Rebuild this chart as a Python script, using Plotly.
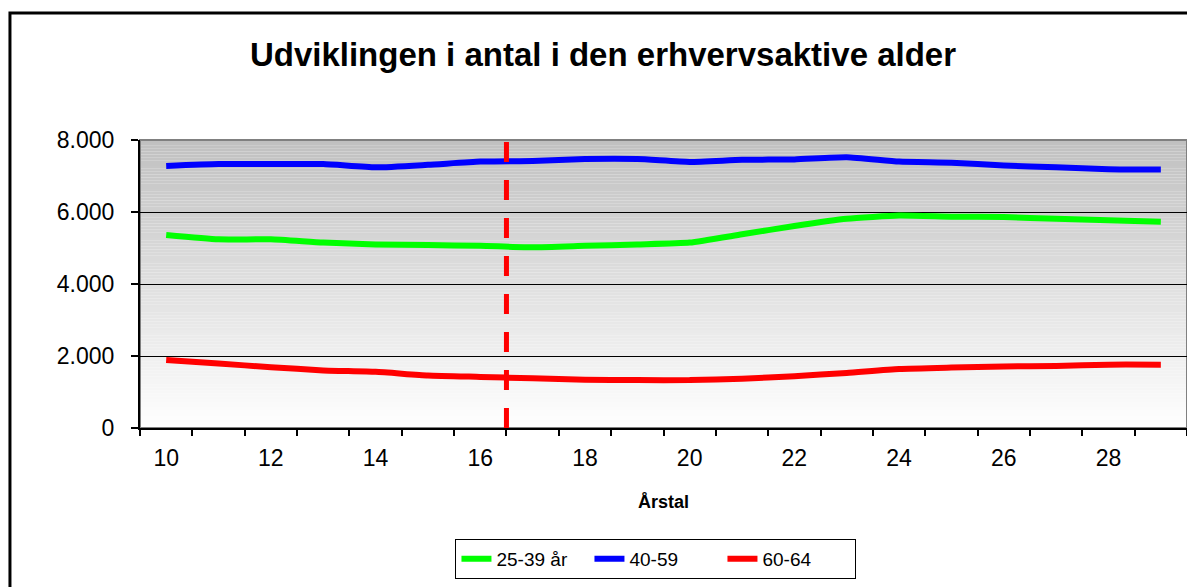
import plotly.graph_objects as go

# Årstal (kategorier 10..29)
years = list(range(10, 30))

# Antal personer pr. aldersgruppe
age_25_39 = [5360, 5240, 5240, 5150, 5100, 5080, 5060, 5020, 5060, 5100,
             5150, 5380, 5610, 5810, 5900, 5870, 5860, 5810, 5770, 5730]
age_40_59 = [7280, 7330, 7330, 7330, 7240, 7310, 7400, 7420, 7470, 7470,
             7390, 7450, 7460, 7520, 7400, 7370, 7290, 7240, 7190, 7180]
age_60_64 = [1890, 1790, 1690, 1600, 1560, 1460, 1420, 1380, 1340, 1330,
             1330, 1370, 1440, 1530, 1640, 1680, 1710, 1720, 1760, 1760]

# skillelinje mellem faktiske tal og prognose
forecast_start = 16.5

x_tickvals = [10, 12, 14, 16, 18, 20, 22, 24, 26, 28]
y_tickvals = [0, 2000, 4000, 6000, 8000]
y_ticktext = ["0", "2.000", "4.000", "6.000", "8.000"]

FONT = "Liberation Sans, Arial, sans-serif"

series = [
    ("25-39 år", age_25_39, "#00ff00"),
    ("40-59", age_40_59, "#0000ff"),
    ("60-64", age_60_64, "#ff0000"),
]

fig = go.Figure()
for label, values, color in series:
    fig.add_trace(
        go.Scatter(
            x=years,
            y=values,
            mode="lines",
            name=label,
            line=dict(color=color, width=6, shape="spline", smoothing=0.5),
        )
    )

# gradient baggrund i plotområdet (grå -> hvid)
shapes = []
n_strips = 100
for i in range(n_strips):
    t = (i + 0.5) / n_strips  # 0 nederst, 1 øverst
    g = round(255 - t * 63)
    shapes.append(dict(
        type="rect", xref="x domain", yref="y domain",
        x0=0, x1=1, y0=i / n_strips, y1=(i + 1) / n_strips,
        line=dict(width=0), fillcolor=f"rgb({g},{g},{g})", layer="below",
    ))

# ramme om plotområdet
shapes.append(dict(
    type="rect", xref="x domain", yref="y domain", x0=0, x1=1, y0=0, y1=1,
    line=dict(color="#808080", width=2), fillcolor="rgba(0,0,0,0)", layer="below",
))

# stiplet lodret linje
shapes.append(dict(
    type="line", xref="x", yref="y domain",
    x0=forecast_start, x1=forecast_start, y0=0, y1=1,
    line=dict(color="#ff0000", width=5, dash="20px,18px"),
))

# ydre ramme om diagrammet
shapes.append(dict(
    type="rect", xref="paper", yref="paper",
    x0=-0.1242, x1=1.02, y0=-0.7, y1=1.4414,
    line=dict(color="#000000", width=3), fillcolor="rgba(0,0,0,0)",
))

fig.update_layout(
    width=1187,
    height=579,
    margin=dict(l=132, r=8, t=132, b=157),
    paper_bgcolor="#ffffff",
    plot_bgcolor="#ffffff",
    font=dict(family=FONT, color="#000000"),
    title=dict(
        text="<b>Udviklingen i antal i den erhvervsaktive alder</b>",
        x=0.4422, xref="paper", xanchor="center",
        y=1 - 46 / 579, yref="container", yanchor="middle",
        font=dict(size=33, family=FONT),
    ),
    shapes=shapes,
    showlegend=True,
    legend=dict(
        orientation="h",
        x=0.4928, xanchor="center",
        y=-0.385, yanchor="top",
        entrywidth=88, entrywidthmode="pixels",
        bordercolor="#000000", borderwidth=1,
        bgcolor="#ffffff",
        font=dict(size=19, family=FONT),
    ),
)

fig.update_xaxes(
    range=[9.5, 29.5],
    tickvals=x_tickvals,
    ticks="",
    tickfont=dict(size=23),
    ticklabelstandoff=8,
    showline=True, linecolor="#000000", linewidth=2,
    showgrid=False, zeroline=False,
    minor=dict(tick0=9.5, dtick=1, ticks="outside", ticklen=6,
               tickcolor="#000000", tickwidth=2, showgrid=False),
    title=dict(text="<b>Årstal</b>", font=dict(size=18), standoff=26),
)
fig.update_yaxes(
    range=[0, 8000],
    tickvals=y_tickvals,
    ticktext=y_ticktext,
    ticks="outside", ticklen=7, tickcolor="#000000", tickwidth=2,
    tickfont=dict(size=23),
    ticklabelstandoff=12,
    showline=True, linecolor="#000000", linewidth=2,
    showgrid=True, gridcolor="#000000", gridwidth=1,
    zeroline=False,
)

fig.write_html("out.html")
